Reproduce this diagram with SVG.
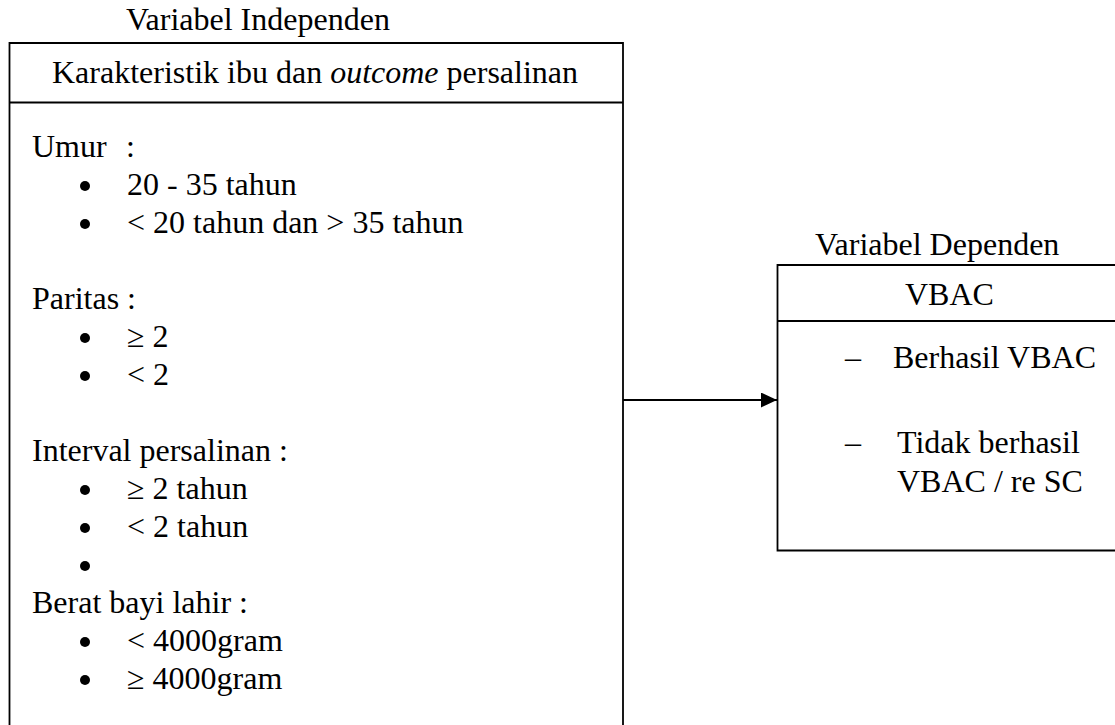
<svg xmlns="http://www.w3.org/2000/svg" width="1115" height="725" viewBox="0 0 1115 725">
<style>
  text { font-family: "Liberation Serif", "Times New Roman", serif; font-size: 32px; fill: #000; }
  .box { fill: none; stroke: #000; stroke-width: 1.8; }
  .ln { stroke: #000; stroke-width: 1.8; fill: none; }
  .dot { fill: #000; }
</style>
<defs>
  <marker id="arrow" markerWidth="16" markerHeight="15" refX="16" refY="7.5" orient="auto" markerUnits="userSpaceOnUse">
    <path d="M0,0 L16,7.5 L0,15 Z" fill="#000"/>
  </marker>
</defs>
<rect width="1115" height="725" fill="#fff"/>

<g id="independen">
  <text x="126" y="30">Variabel Independen</text>
  <path class="box" d="M9.5,740 L9.5,43 L623,43 L623,740"/>
  <line class="ln" x1="9.5" y1="102.5" x2="623" y2="102.5"/>
  <text x="52" y="83">Karakteristik ibu dan <tspan font-style="italic">outcome</tspan> persalinan</text>
  <text x="32" y="157">Umur<tspan x="126">:</tspan></text>
  <circle class="dot" cx="85" cy="186" r="5"/>
  <text x="127" y="195">20 - 35 tahun</text>
  <circle class="dot" cx="85" cy="224" r="5"/>
  <text x="127" y="233">&lt; 20 tahun dan &gt; 35 tahun</text>
  <text x="32" y="309">Paritas :</text>
  <circle class="dot" cx="85" cy="338" r="5"/>
  <text x="127" y="347">≥ 2</text>
  <circle class="dot" cx="85" cy="376" r="5"/>
  <text x="127" y="385">&lt; 2</text>
  <text x="32" y="461">Interval persalinan :</text>
  <circle class="dot" cx="85" cy="490" r="5"/>
  <text x="127" y="499">≥ 2 tahun</text>
  <circle class="dot" cx="85" cy="528" r="5"/>
  <text x="127" y="537">&lt;  2 tahun</text>
  <circle class="dot" cx="85" cy="566" r="5"/>
  <text x="32" y="613">Berat bayi lahir :</text>
  <circle class="dot" cx="85" cy="642" r="5"/>
  <text x="127" y="651">&lt; 4000gram</text>
  <circle class="dot" cx="85" cy="680" r="5"/>
  <text x="127" y="689">≥ 4000gram</text>
</g>

<g id="dependen">
  <text x="815" y="255">Variabel Dependen</text>
  <path class="box" d="M1130,265 L777.5,265 L777.5,550.5 L1130,550.5"/>
  <line class="ln" x1="777.5" y1="321" x2="1130" y2="321"/>
  <text x="905" y="305">VBAC</text>
  <text x="845" y="368">–</text>
  <text x="893" y="368">Berhasil VBAC</text>
  <text x="845" y="453">–</text>
  <text x="897" y="453">Tidak berhasil</text>
  <text x="897" y="492">VBAC / re SC</text>
</g>

<g id="connectors">
  <line class="ln" x1="623" y1="400" x2="777" y2="400" marker-end="url(#arrow)"/>
</g>
</svg>
